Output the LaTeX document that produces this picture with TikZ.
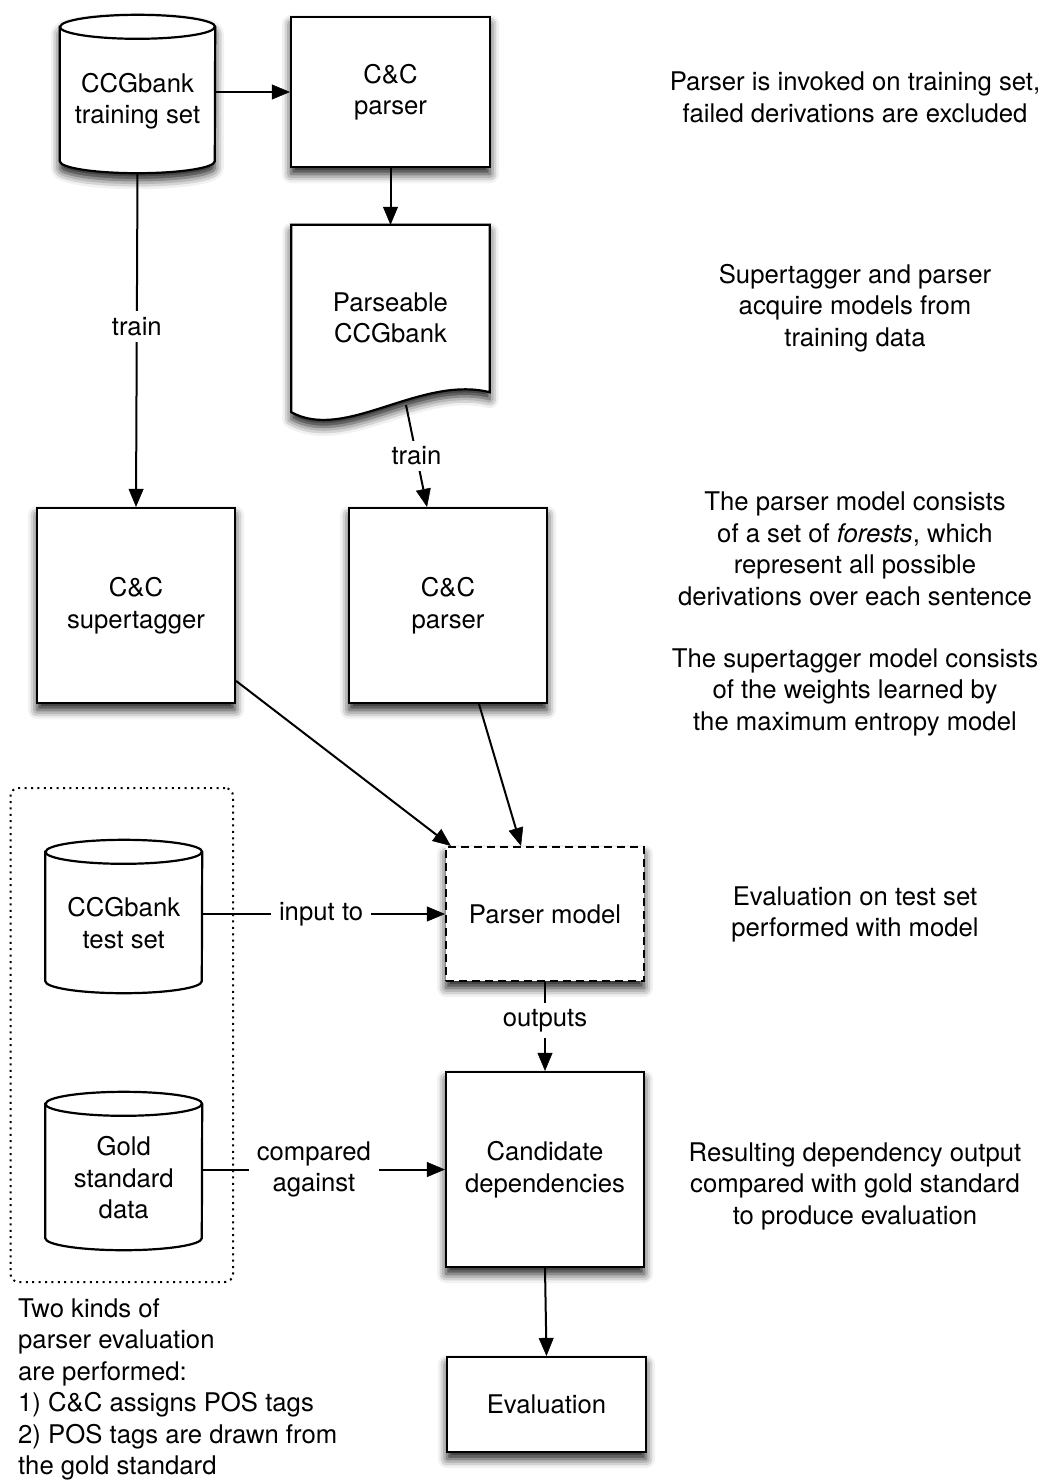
\documentclass[tikz,border=0pt]{standalone}
\usepackage{fontspec}
\setmainfont{TeX Gyre Heros}
\usetikzlibrary{arrows.meta,shadows.blur}

% outline of an upright cylinder drawn inside the frame node #1 (half width #2)
\newcommand\cylpath[2]{%
  ([yshift=-12pt]#1.north west) -- ([yshift=12pt]#1.south west)
  arc[start angle=180,end angle=360,x radius=#2pt,y radius=12pt]
  -- ([yshift=-12pt]#1.north east)
  arc[start angle=0,end angle=180,x radius=#2pt,y radius=12pt] -- cycle}
\newcommand\cyllid[2]{%
  ([yshift=-12pt]#1.north west)
  arc[start angle=180,end angle=360,x radius=#2pt,y radius=12pt]}

\begin{document}
\begin{tikzpicture}[x=1pt,y=-1pt,
  every node/.style={font=\fontsize{25.7pt}{31.5pt}\selectfont},
  >={Triangle[length=18pt,width=15pt,fill=black,line width=0.5pt]},
  conn/.style={line width=2pt,->},
  shade/.style={blur shadow={shadow xshift=0pt,shadow yshift=-7pt,
      shadow blur radius=9pt,shadow opacity=90}},
  box/.style={draw,line width=2.2pt,fill=white,align=center,inner sep=0pt,shade},
  frame/.style={rectangle,inner sep=0pt},
  outline/.style={draw,line width=2.2pt,fill=white},
  txt/.style={align=center,inner sep=0pt},
  lbl/.style={fill=white,align=center,inner xsep=8pt,inner ysep=6pt},
]
\useasboundingbox (0,0) rectangle (1051,1481);

% group of evaluation data
\node[frame,draw,line width=2pt,dash pattern=on 2pt off 4.4pt,
      rounded corners=8pt,minimum width=222.5pt,minimum height=494pt]
      (grp) at (121.75,1035) {};

% training data cylinder
\node[frame,minimum width=155pt,minimum height=158pt] (trn) at (137.5,94) {};
\draw[outline,shade] \cylpath{trn}{77.5};
\draw[line width=2.2pt] \cyllid{trn}{77.5};
\node[txt] (trn-t) at (137.5,101) {CCGbank\\training set};

% test data cylinder
\node[frame,minimum width=156.5pt,minimum height=153pt] (tst) at (123.75,916.5) {};
\draw[outline] \cylpath{tst}{78.25};
\draw[line width=2.2pt] \cyllid{tst}{78.25};
\node[txt] (tst-t) at (123.75,923) {CCGbank\\test set};

% gold standard cylinder
\node[frame,minimum width=156.5pt,minimum height=158pt] (gold) at (123.75,1171) {};
\draw[outline] \cylpath{gold}{78.25};
\draw[line width=2.2pt] \cyllid{gold}{78.25};
\node[txt] (gold-t) at (123.75,1178) {Gold\\standard\\data};

% parseable CCGbank document
\node[frame,minimum width=198pt,minimum height=186pt] (pcb) at (390.5,318) {};
\draw[outline,shade] (pcb.north west) -- (pcb.north east)
  -- ([yshift=19pt]pcb.south east)
  .. controls (420,375) and (345,442) .. ([yshift=-1pt]pcb.south west) -- cycle;
\node[txt] (pcb-t) at (pcb) {Parseable\\CCGbank};
\coordinate (docb) at (406,405);

% processing boxes
\node[box,minimum width=199pt,minimum height=150pt] (p1) at (390.5,92) {C\&C\\parser};
\node[box,minimum width=198pt,minimum height=195pt] (st) at (136,605.5) {C\&C\\supertagger};
\node[box,minimum width=198pt,minimum height=195pt] (p2) at (448,605.5) {C\&C\\parser};
\node[box,dash pattern=on 8pt off 5pt,minimum width=198pt,minimum height=134pt]
      (pm) at (545,914) {Parser model};
\node[box,minimum width=198pt,minimum height=195pt] (cd) at (545,1169.5) {Candidate\\dependencies};
\node[box,minimum width=199pt,minimum height=95pt] (ev) at (546.5,1404.5) {Evaluation};

% connectors
\draw[conn] (trn.east |- p1.west) -- (p1.west);
\draw[conn] (p1.south) -- (pcb.north);
\draw[conn] (docb) -- node[lbl] (lt2) {train} ([xshift=-21pt]p2.north);
\draw[conn] (trn.south) -- node[lbl,pos=0.46] (lt1) {train} (st.north);
\draw[conn] (st.-37.4) -- ([xshift=6pt]pm.north west);
\draw[conn] ([xshift=31pt]p2.south) -- ([xshift=-24pt]pm.north);
\draw[conn] (tst.east |- pm.west) -- node[lbl,pos=0.49] (lin) {input to} (pm.west);
\draw[conn] (pm.south) -- node[lbl,pos=0.43] (lout) {outputs} (cd.north);
\draw[conn] (gold.east |- cd.west) -- node[lbl,pos=0.46] (lcmp) {compared\\against} (cd.west);
\draw[conn] (cd.south) -- (ev.north);

% annotations
\node[txt] (n1) at (855,97.5) {Parser is invoked on training set,\\failed derivations are excluded};
\node[txt] (n2) at (855,308) {Supertagger and parser\\acquire models from\\training data};
\node[txt] (n3) at (855,549) {The parser model consists\\of a set of \textit{forests}, which\\represent all possible\\derivations over each sentence};
\node[txt] (n4) at (855,692) {The supertagger model consists\\of the weights learned by\\the maximum entropy model};
\node[txt] (n5) at (855,914.5) {Evaluation on test set\\performed with model};
\node[txt] (n6) at (855,1186) {Resulting dependency output\\compared with gold standard\\to produce evaluation};
\node[txt,align=left,anchor=west] (n7) at (18,1389.5) {Two kinds of\\parser evaluation\\are performed:\\1) C\&C assigns POS tags\\2) POS tags are drawn from\\the gold standard};
\end{tikzpicture}
\end{document}
